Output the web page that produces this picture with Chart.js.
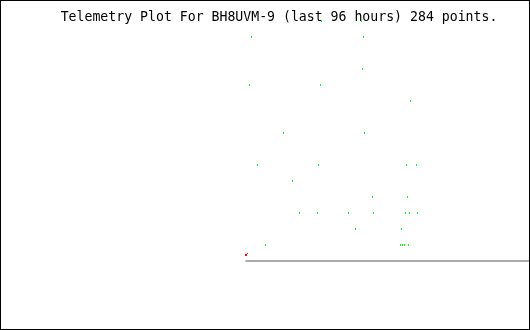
<!DOCTYPE html>
<html>
<head>
<meta charset="utf-8">
<title>Telemetry Plot</title>
<script src="https://cdn.jsdelivr.net/npm/chart.js@4.4.1/dist/chart.umd.min.js"></script>
<style>
  html, body { margin: 0; padding: 0; background: #fff; }
  canvas { display: block; }
</style>
</head>
<body>
<canvas id="mycanvas" width="530" height="330"></canvas>
<script>
// point index (0..284) and level for each telemetry sample
var greenX = [76, 116, 6, 118, 117, 4, 75, 165, 38, 119, 12, 73, 161, 171, 47, 127, 162,
              54, 72, 103, 128, 160, 164, 172, 110, 156, 20, 155, 157, 159, 163];
var greenY = [15, 15, 14, 14, 12, 11, 11, 10, 8, 8, 6, 6, 6, 6, 5, 4, 4,
              3, 3, 3, 3, 3, 3, 3, 2, 2, 1, 1, 1, 1, 1];

var redX = [1];
var redY = [0.41];

var baseX = [0, 284];
var baseY = [0, 0];

var titleText = 'Telemetry Plot For BH8UVM-9 (last 96 hours) 284 points.';

function toPoints(xs, ys) {
	var out = [];
	for (var i in xs) {
		out.push({x: xs[i], y: ys[i]});
	}
	return out;
}

// tiny pixel sprites used as point styles
function dot(color, cells, w, h) {
	var c = document.createElement('canvas');
	c.width = w;
	c.height = h;
	var g = c.getContext('2d');
	g.fillStyle = color;
	for (var i in cells) {
		g.fillRect(cells[i][0], cells[i][1], 1, 1);
	}
	return c;
}

var greenDot = dot('#00ff00', [[0, 0], [0, 1]], 1, 2);
var redDot = dot('#ff0000', [[2, 0], [0, 1], [1, 1], [0, 2], [1, 2]], 3, 3);

var frame = {
	id: 'frame',
	afterDraw: function(chart) {
		var ctx = chart.ctx;
		ctx.save();
		ctx.strokeStyle = '#000';
		ctx.lineWidth = 1;
		ctx.strokeRect(0.5, 0.5, chart.width - 1, chart.height - 1);
		ctx.restore();
	}
};

var ctx = document.getElementById('mycanvas');

var plot = new Chart(ctx, {
	type: 'scatter',
	data: {
		datasets: [
			{
				label: 'telemetry',
				data: toPoints(greenX, greenY),
				pointStyle: greenDot,
				pointRadius: 1,
				clip: false
			},
			{
				label: 'last',
				data: toPoints(redX, redY),
				pointStyle: redDot,
				pointRadius: 1,
				clip: false
			},
			{
				label: 'base',
				data: toPoints(baseX, baseY),
				showLine: true,
				borderColor: '#aaaaaa',
				borderWidth: 2,
				pointRadius: 0,
				clip: false
			}
		]
	},
	options: {
		responsive: false,
		devicePixelRatio: 1,
		animation: false,
		events: [],
		layout: { autoPadding: false, padding: { left: 28, right: 0, top: 0, bottom: 0 } },
		plugins: {
			legend: { display: false },
			tooltip: { enabled: false },
			title: {
				display: true,
				text: titleText,
				color: '#000',
				font: { family: 'DejaVu Sans Mono', size: 13.2, weight: 'normal', lineHeight: 1 },
				padding: { top: 10.8, bottom: 0 }
			}
		},
		scales: {
			x: { type: 'linear', display: false, min: -217.5, max: 284.5 },
			y: { type: 'linear', display: false, min: -4.3125, max: 14.8125 }
		}
	},
	plugins: [frame]
});
</script>
</body>
</html>
